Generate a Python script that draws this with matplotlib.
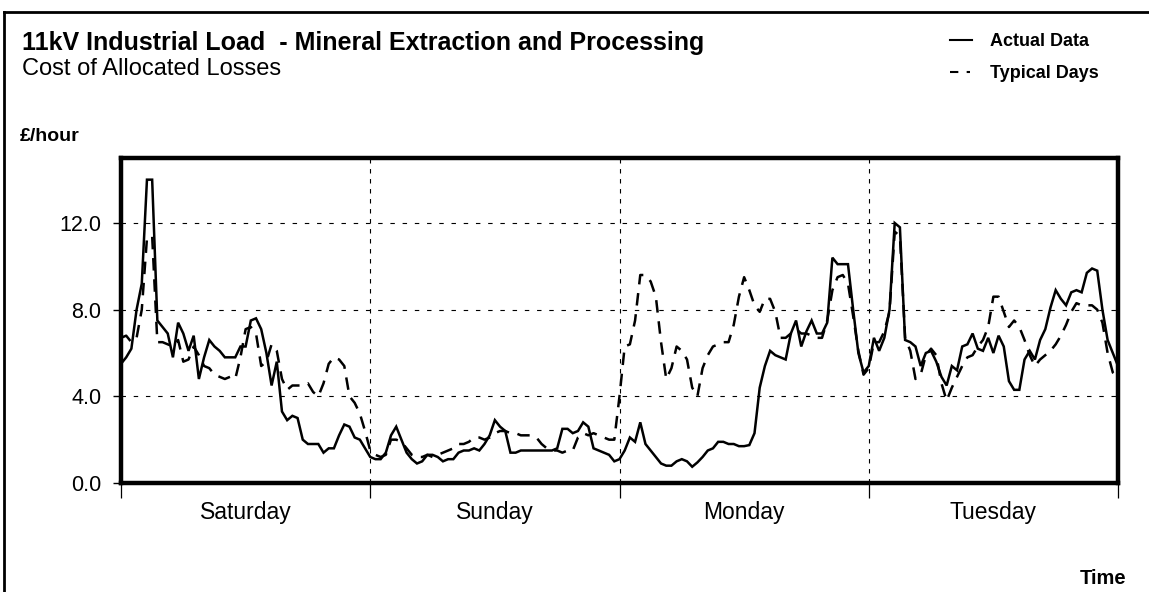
import numpy as np
import matplotlib
matplotlib.use("Agg")
import matplotlib.pyplot as plt
from matplotlib.lines import Line2D
import matplotlib.transforms as mtransforms

# ---------------- data (half-hourly, £/hour) ----------------
days = ["Saturday", "Sunday", "Monday", "Tuesday"]
y_ticks = [0.0, 4.0, 8.0, 12.0]

actual_sat = [5.5, 5.8, 6.2, 8.0, 9.2, 14.0, 14.0, 7.5, 7.2, 6.9, 5.8, 7.4, 6.9, 6.1, 6.8, 4.8,
              5.8, 6.6, 6.3, 6.1, 5.8, 5.8, 5.8, 6.3, 6.3, 7.5, 7.6, 7.1, 6.0, 4.5, 5.6, 3.3,
              2.9, 3.1, 3.0, 2.0, 1.8, 1.8, 1.8, 1.4, 1.6, 1.6, 2.2, 2.7, 2.6, 2.1, 2.0, 1.6]
actual_sun = [1.2, 1.1, 1.1, 1.4, 2.2, 2.6, 2.0, 1.4, 1.1, 0.9, 1.0, 1.3, 1.3, 1.2, 1.0, 1.1,
              1.1, 1.4, 1.5, 1.5, 1.6, 1.5, 1.8, 2.2, 2.9, 2.6, 2.4, 1.4, 1.4, 1.5, 1.5, 1.5,
              1.5, 1.5, 1.5, 1.5, 1.6, 2.5, 2.5, 2.3, 2.4, 2.8, 2.6, 1.6, 1.5, 1.4, 1.3, 1.0]
actual_mon = [1.1, 1.5, 2.1, 1.9, 2.8, 1.8, 1.5, 1.2, 0.9, 0.8, 0.8, 1.0, 1.1, 1.0, 0.75, 0.95,
              1.2, 1.5, 1.6, 1.9, 1.9, 1.8, 1.8, 1.7, 1.7, 1.75, 2.3, 4.4, 5.4, 6.1, 5.9, 5.8,
              5.7, 6.9, 7.5, 6.3, 7.0, 7.5, 6.9, 6.9, 7.4, 10.4, 10.1, 10.1, 10.1, 8.0, 6.0, 5.1]
actual_tue = [5.4, 6.7, 6.1, 6.7, 8.0, 12.0, 11.8, 6.6, 6.5, 6.3, 5.4, 6.0, 6.1, 5.6, 4.9, 4.5,
              5.4, 5.2, 6.3, 6.4, 6.9, 6.2, 6.1, 6.7, 6.0, 6.8, 6.3, 4.7, 4.3, 4.3, 5.7, 6.1,
              5.7, 6.6, 7.1, 8.1, 8.9, 8.5, 8.2, 8.8, 8.9, 8.8, 9.7, 9.9, 9.8, 8.0, 6.6, 6.0]
actual_end = [5.4]

typical_sat = [6.7, 6.8, 6.5, 6.7, 8.0, 11.3, 11.4, 6.5, 6.5, 6.4, 6.3, 6.6, 5.6, 5.7, 6.3, 5.9,
               5.4, 5.3, 5.0, 4.9, 4.8, 4.9, 4.8, 5.8, 7.1, 7.2, 6.9, 5.4, 5.6, 6.4, 6.1, 4.8,
               4.3, 4.5, 4.5, 4.5, 4.6, 4.2, 4.0, 4.6, 5.5, 5.8, 5.7, 5.4, 4.0, 3.7, 3.2, 2.4]
typical_sun = [1.5, 1.3, 1.2, 1.3, 2.0, 2.0, 1.9, 1.6, 1.3, 1.2, 1.2, 1.3, 1.2, 1.3, 1.4, 1.5,
               1.6, 1.8, 1.8, 1.9, 2.1, 2.1, 2.0, 2.1, 2.3, 2.4, 2.4, 2.3, 2.3, 2.2, 2.2, 2.2,
               2.1, 1.8, 1.6, 1.5, 1.5, 1.4, 1.5, 1.5, 2.1, 2.3, 2.2, 2.3, 2.2, 2.1, 2.0, 2.0]
typical_mon = [4.0, 6.3, 6.4, 7.5, 9.6, 9.6, 9.3, 8.6, 6.5, 4.8, 5.3, 6.3, 6.1, 5.7, 4.4, 4.0,
               5.3, 5.9, 6.3, 6.4, 6.5, 6.5, 7.3, 8.6, 9.5, 8.9, 8.2, 7.9, 8.5, 8.5, 7.9, 6.7,
               6.7, 6.9, 7.1, 6.9, 6.9, 6.8, 6.7, 6.7, 7.5, 8.9, 9.5, 9.6, 9.2, 7.7, 6.1, 5.0]
typical_tue = [5.3, 6.5, 6.5, 7.0, 7.9, 11.6, 11.4, 6.7, 6.1, 4.8, 5.0, 5.9, 6.2, 5.9, 4.6, 3.8,
               4.4, 4.9, 5.4, 5.8, 5.9, 6.3, 6.6, 7.2, 8.6, 8.6, 7.9, 7.2, 7.5, 7.2, 6.6, 5.9,
               5.4, 5.7, 5.9, 6.1, 6.4, 6.8, 7.3, 7.9, 8.3, 8.2, 8.2, 8.2, 8.0, 7.4, 6.0, 5.1]
typical_end = [4.9]

actual = np.array(actual_sat + actual_sun + actual_mon + actual_tue + actual_end)
typical = np.array(typical_sat + typical_sun + typical_mon + typical_tue + typical_end)
t = np.arange(len(actual)) / 48.0   # time in days

# ---------------- figure ----------------
plt.rcParams['font.family'] = ['Liberation Sans', 'DejaVu Sans']
W, H = 1149, 592
fig = plt.figure(figsize=(W / 100, H / 100), dpi=100)
ax = fig.add_axes([121 / W, 1 - 483 / H, (1118 - 121) / W, (483 - 158) / H])

ax.plot(t, actual, color='black', lw=1.8, solid_joinstyle='miter')
ax.plot(t, typical, color='black', lw=1.8, linestyle=(0, (5, 3.5)))

ax.set_xlim(0, 4)
ax.set_ylim(0, 15)

# grid
for y in [4, 8, 12]:
    ax.axhline(y, color='black', lw=0.8, linestyle=(0, (4, 7)), zorder=0)
for x in [1, 2, 3]:
    ax.axvline(x, color='black', lw=0.8, linestyle=(0, (4, 5)), zorder=0)

for s in ax.spines.values():
    s.set_linewidth(3.2)

ax.set_yticks(y_ticks)
ax.set_yticklabels([f"{v:.1f}" for v in y_ticks], fontsize=15.5)
ax.tick_params(axis='y', direction='out', length=6, width=1, pad=8)
ax.set_xticks([0, 1, 2, 3, 4])
ax.set_xticklabels([])
ax.tick_params(axis='x', direction='out', length=11, width=0.9)

trans = mtransforms.blended_transform_factory(ax.transData, ax.transAxes)
for i, d in enumerate(days):
    ax.text(i + 0.5, -(512 - 483) / 325, d, transform=trans, ha='center', va='center',
            fontsize=16.5)

# texts
fig.text(22 / W, 1 - 43 / H, "11kV Industrial Load  - Mineral Extraction and Processing",
         fontsize=18, fontweight='bold', va='center', ha='left')
fig.text(22 / W, 1 - 69 / H, "Cost of Allocated Losses",
         fontsize=17, va='center', ha='left')
fig.text(20 / W, 1 - 137 / H, "£/hour", fontsize=14, fontweight='bold',
         va='center', ha='left')
fig.text(1126 / W, 1 - 579 / H, "Time", fontsize=14.5, fontweight='bold',
         va='center', ha='right')

# legend (manual)
fig.add_artist(Line2D([950 / W, 972 / W], [1 - 40 / H, 1 - 40 / H],
                      color='black', lw=1.5))
fig.add_artist(Line2D([950 / W, 970 / W], [1 - 72 / H, 1 - 72 / H],
                      color='black', lw=1.5, linestyle=(0, (4, 4))))
fig.text(990 / W, 1 - 41 / H, "Actual Data", fontsize=13, fontweight='bold',
         va='center', ha='left')
fig.text(990 / W, 1 - 73 / H, "Typical Days", fontsize=13, fontweight='bold',
         va='center', ha='left')

# outer frame (left and top)
fig.add_artist(Line2D([4 / W, 4 / W], [0, 1 - 12 / H], color='black', lw=2))
fig.add_artist(Line2D([4 / W, 1], [1 - 12 / H, 1 - 12 / H], color='black', lw=2))

fig.savefig("out.png", dpi=100)
